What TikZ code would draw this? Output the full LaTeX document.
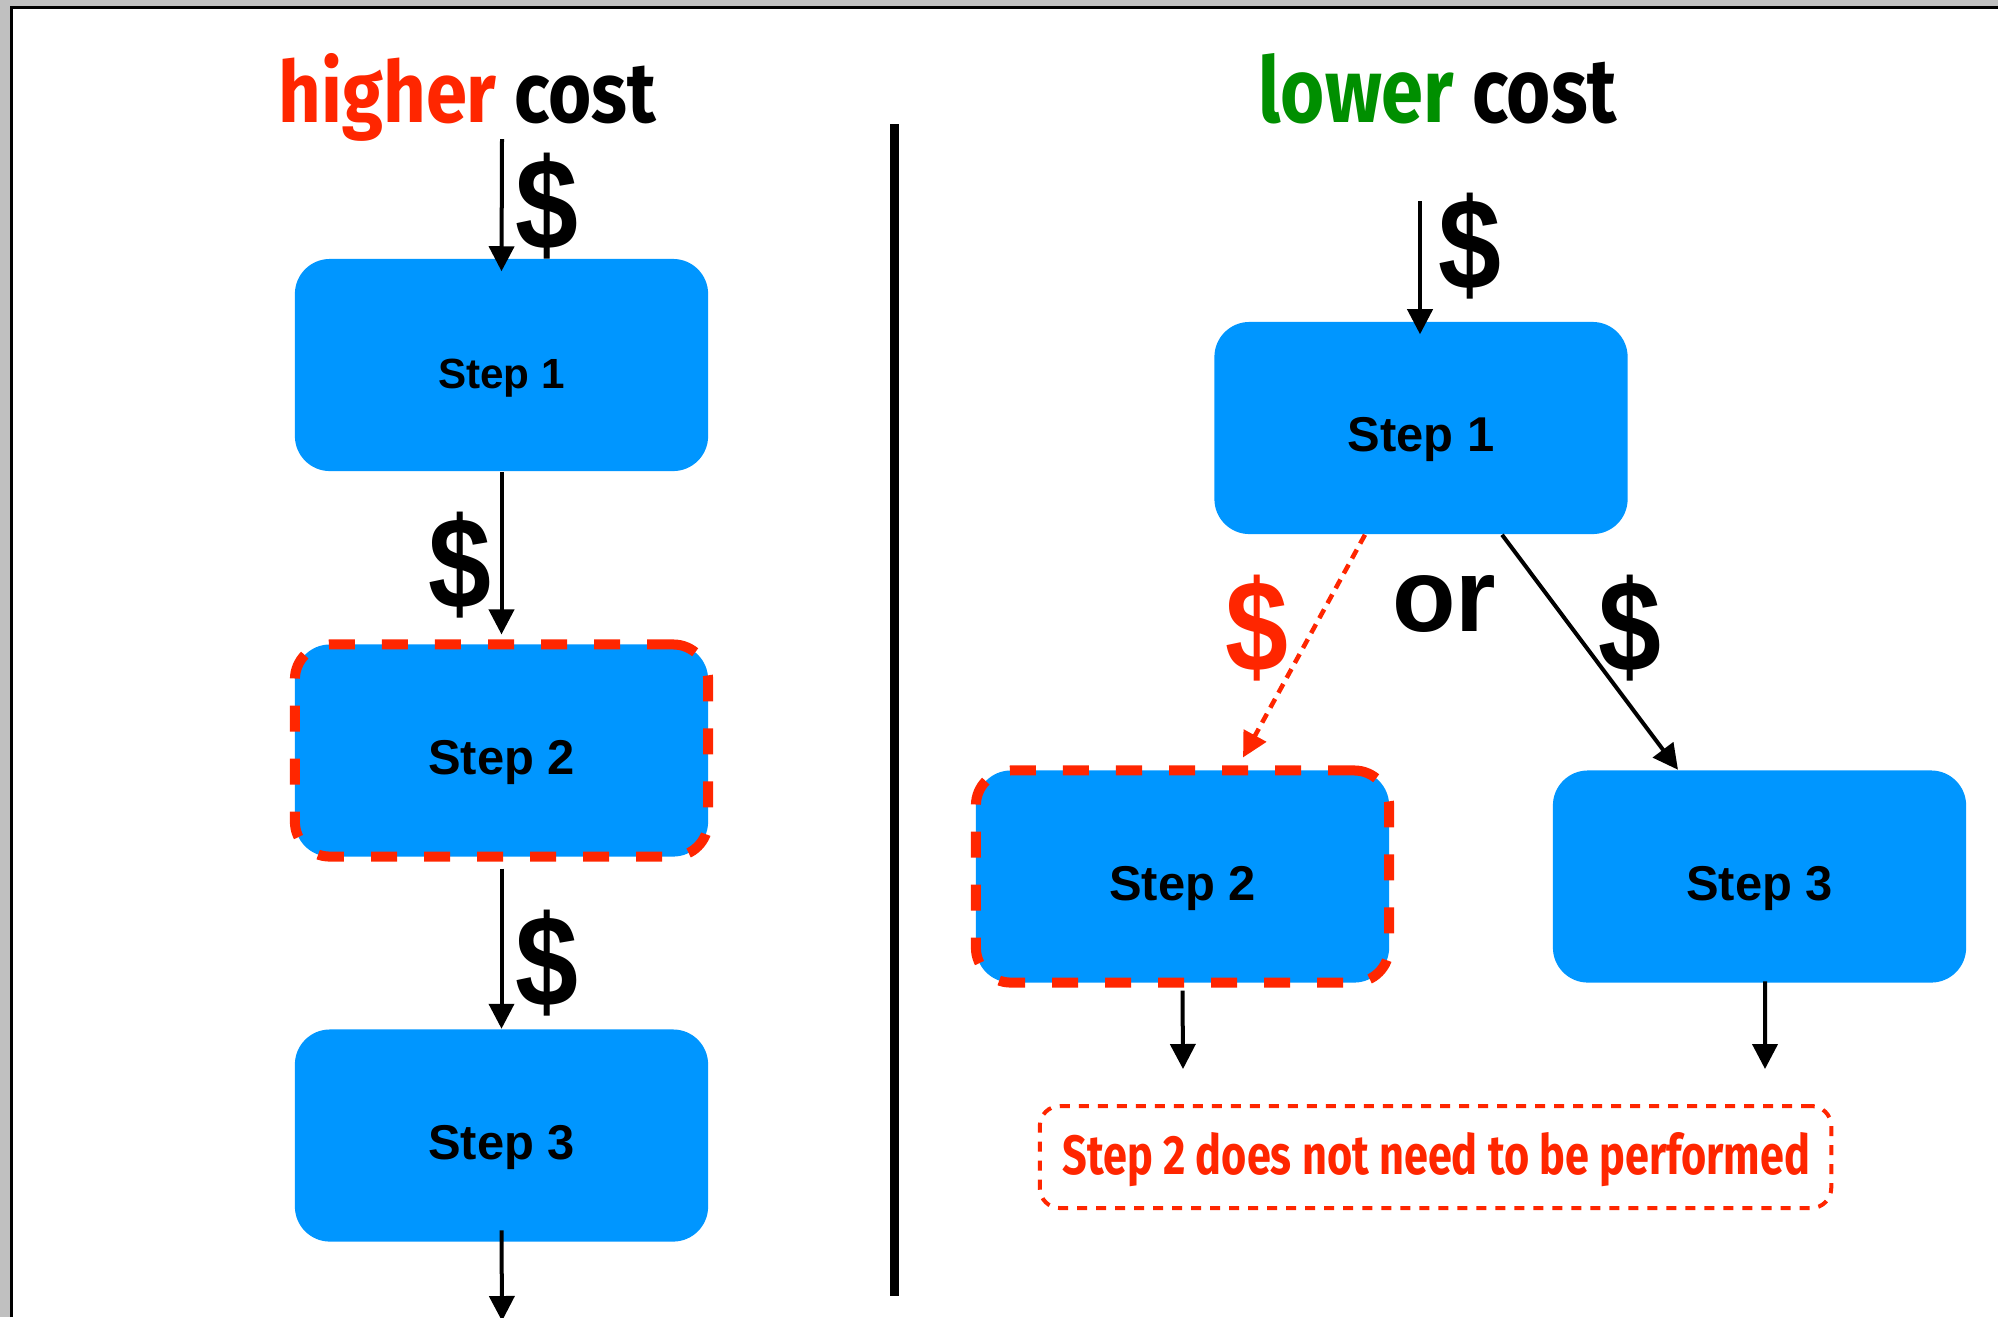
\documentclass[tikz,border=0pt]{standalone}
\usepackage{fontspec}
\setmainfont{Liberation Sans}
\newfontfamily\handfont{Fira Sans}
\usepackage{graphicx}
\usetikzlibrary{arrows.meta}
\definecolor{kblue}{RGB}{0,150,255}
\definecolor{kred}{RGB}{255,38,0}
\definecolor{kgreen}{RGB}{0,143,0}
\definecolor{framegray}{RGB}{192,192,192}
% large dollar sign, scaled to a fixed ink height and narrowed a little
\newcommand\bigdol{\scalebox{0.87}[1]{\resizebox*{!}{1.06cm}{\bfseries\$}}}
\tikzset{
  stepbox/.style={fill=kblue, rounded corners=0.35cm, minimum width=4.13cm,
    minimum height=2.12cm, inner sep=0pt, text=black,
    text height=0.57cm, text depth=0.10cm,
    font=\bfseries\fontsize{13.9}{16}\selectfont},
  skipbox/.style={stepbox, draw=kred, line width=0.1cm,
    dash pattern=on 0.26cm off 0.27cm},
  arr/.style={-{Triangle[length=0.25cm,width=0.25cm]}, line width=0.04cm, black},
  skiparr/.style={-{Triangle[length=0.25cm,width=0.25cm]}, line width=0.045cm,
    kred, dash pattern=on 0.1cm off 0.07cm},
  dollar/.style={inner sep=0pt},
  title/.style={inner sep=0pt, anchor=base west},
}
\begin{document}
\begin{tikzpicture}[x=0.01cm, y=-0.01cm]
\useasboundingbox (0,0) rectangle (1998,1317);
% page frame
\fill[framegray] (0,0) rectangle (1998,1317);
\fill[white] (13,9) rectangle (1998,1317);
\draw[line width=0.03cm] (11.5,1317) -- (11.5,7.5) -- (1998,7.5);

% titles
\node[title] (tL) at (278,122)
  {\resizebox{3.77cm}{0.69cm}{\handfont\bfseries\textcolor{kred}{higher} cost}};
\node[title] (tR) at (1258,122)
  {\resizebox{3.58cm}{0.69cm}{\handfont\bfseries\textcolor{kgreen}{lower} cost}};

% divider
\coordinate (dTop) at (894.5,124);
\coordinate (dBot) at (894.5,1296);
\draw[line width=0.09cm] (dTop) -- (dBot);

% left chain
\node[stepbox, font=\bfseries\fontsize{12}{14}\selectfont] (L1) at (501.5,365) {Step 1};
\node[skipbox] (L2) at (501.5,750.5) {Step 2};
\node[stepbox] (L3) at (501.5,1135.5) {Step 3};

\coordinate (Lin) at (502,139);
\coordinate (Lout) at (502,1321);
\draw[arr] (Lin) -- ([yshift=-0.13cm]L1.north);
\draw[arr] (L1.south) -- ([yshift=0.05cm]L2.north);
\draw[arr] ([yshift=-0.07cm]L2.south) -- (L3.north);
\draw[arr] ([yshift=0.12cm]L3.south) -- (Lout);

\node[dollar] (d1) at (547,206) {\bigdol};
\node[dollar] (d2) at (460,565) {\bigdol};
\node[dollar] (d3) at (547,963) {\bigdol};

% right branch
\node[stepbox] (R1) at (1421,428) {Step 1};
\node[skipbox] (R2) at (1182.5,876.5) {Step 2};
\node[stepbox] (R3) at (1759.5,876.5) {Step 3};

\coordinate (Rin) at (1420,201);
\draw[arr] (Rin) -- ([xshift=-0.01cm,yshift=-0.13cm]R1.north);
\draw[skiparr] ([xshift=-0.56cm]R1.south) -- ([xshift=0.605cm,yshift=0.08cm]R2.north);
\draw[arr] ([xshift=0.81cm]R1.south) -- ([xshift=-0.815cm]R3.north);

\coordinate (R2out) at (1183,1069);
\coordinate (R3out) at (1765,1069);
\draw[arr] ([yshift=-0.03cm]R2.south) -- (R2out);
\draw[arr] ([xshift=0.055cm,yshift=0.02cm]R3.south) -- (R3out);

\node[dollar] (d4) at (1470,246) {\bigdol};
\node[dollar, text=kred] (d5) at (1256.5,628) {\bigdol};
\node[dollar] (d6) at (1630,628) {\bigdol};
\node[inner sep=0pt] (or) at (1444,603.5) {\resizebox*{!}{0.57cm}{\bfseries or}};

% note
\node[draw=kred, line width=0.04cm, dash pattern=on 0.1cm off 0.09cm,
      rounded corners=0.2cm, minimum width=7.91cm, minimum height=1.02cm,
      inner sep=0pt] (note) at (1435.5,1157) {};
\node[inner sep=0pt, anchor=base, text=kred] (noteText) at (1436.5,1174)
  {\resizebox{7.47cm}{0.42cm}{\handfont\bfseries Step 2 does not need to be performed}};
\end{tikzpicture}
\end{document}
